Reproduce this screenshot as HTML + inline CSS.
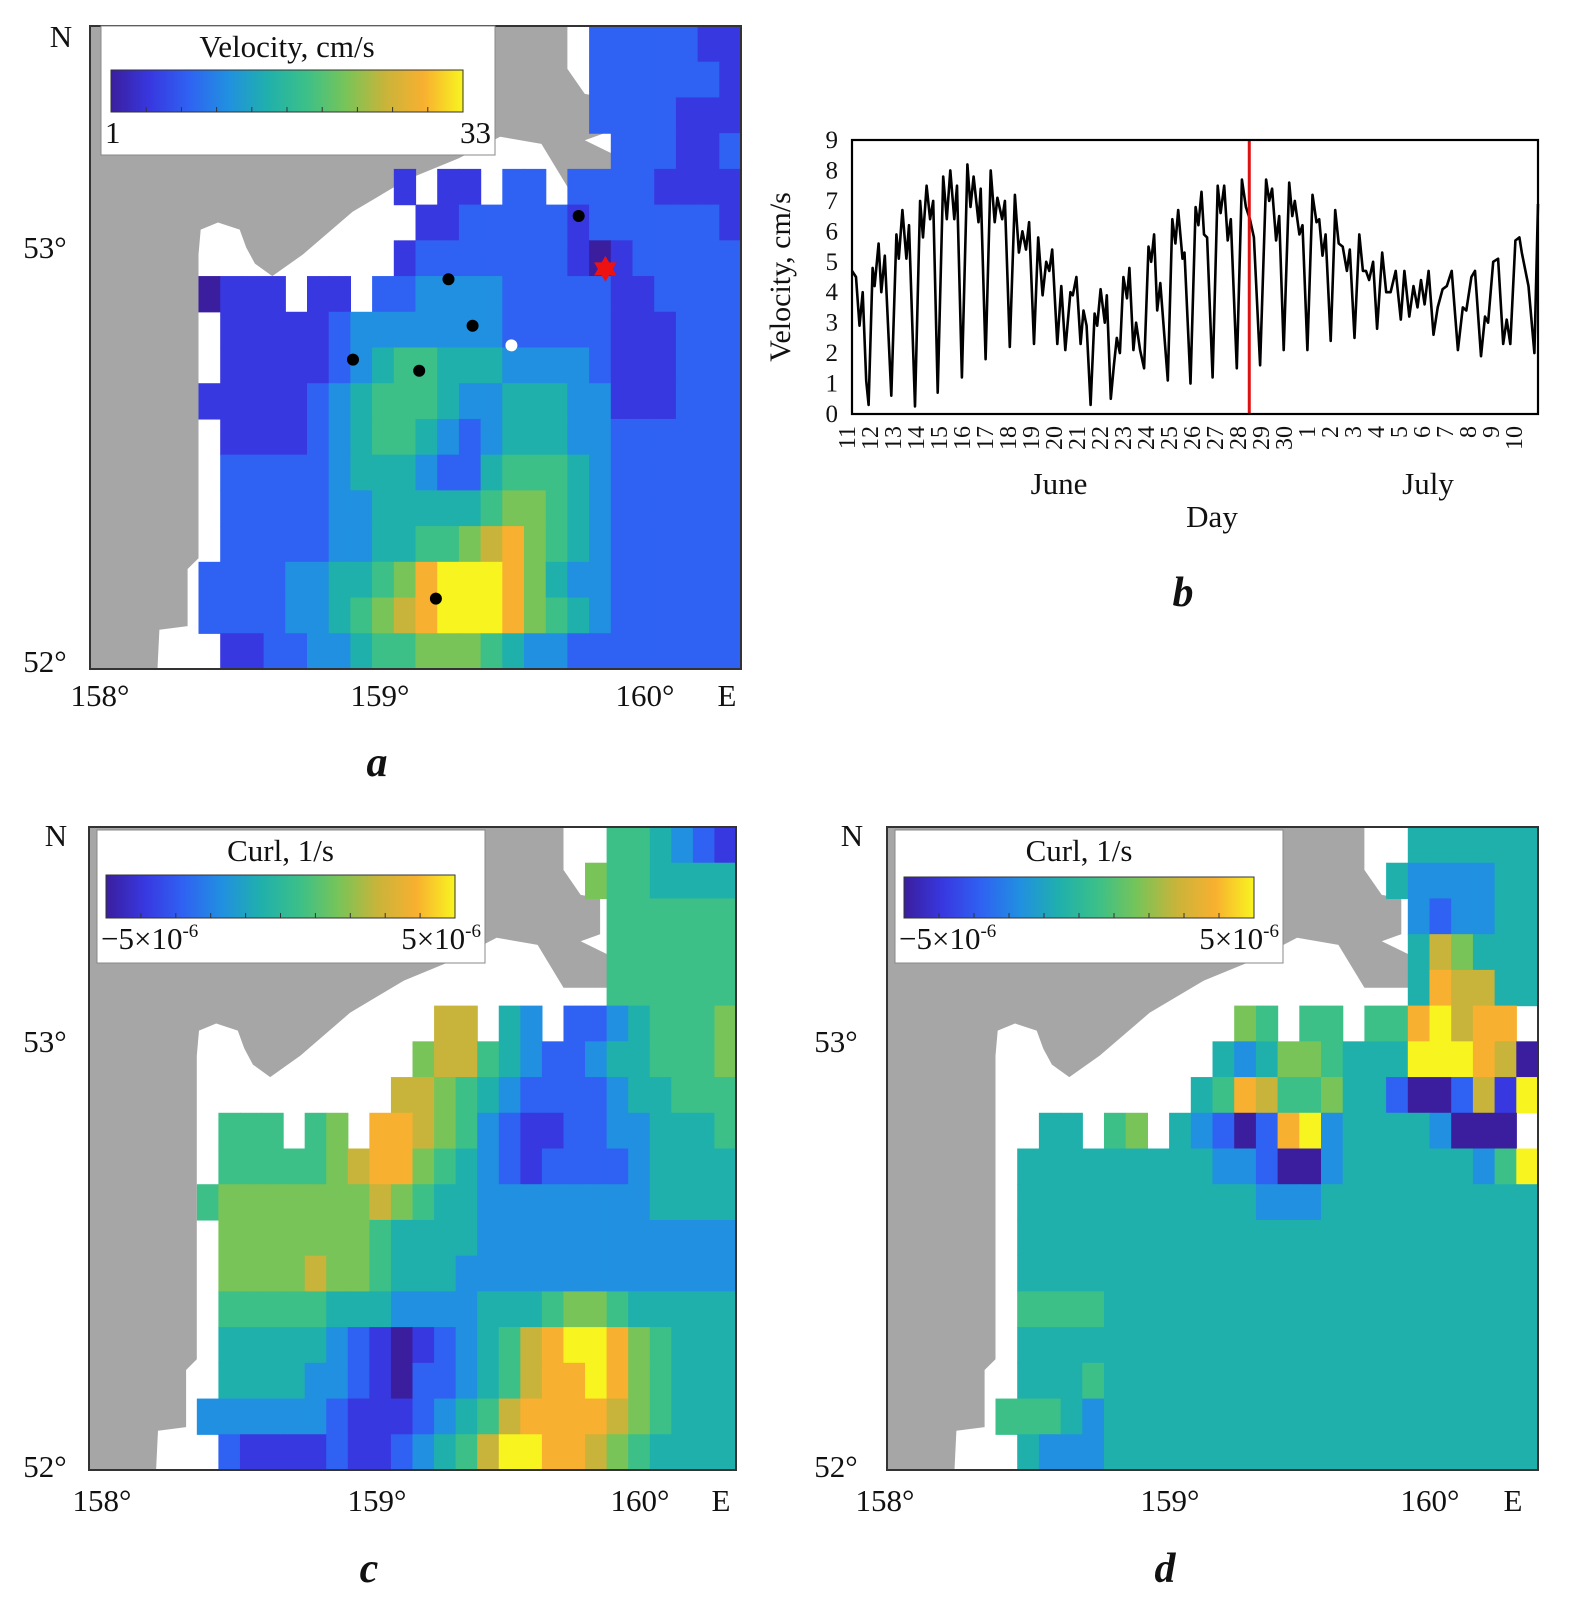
<!DOCTYPE html>
<html><head><meta charset="utf-8">
<style>
html,body{margin:0;padding:0;background:#fff;}
svg{display:block;font-family:"Liberation Serif","Times New Roman",serif;}
</style></head>
<body>
<svg id="fig" xmlns="http://www.w3.org/2000/svg" width="1580" height="1606" viewBox="0 0 1580 1606">
<defs>
<linearGradient id="parula" x1="0" x2="1" y1="0" y2="0">
<stop offset="0" stop-color="#3a1e9e"/><stop offset="0.111" stop-color="#3838e0"/>
<stop offset="0.222" stop-color="#2f62f2"/><stop offset="0.333" stop-color="#2190e0"/>
<stop offset="0.444" stop-color="#20b0ac"/><stop offset="0.556" stop-color="#3cc088"/>
<stop offset="0.667" stop-color="#78c458"/><stop offset="0.778" stop-color="#c8b43a"/>
<stop offset="0.889" stop-color="#f8b030"/><stop offset="1" stop-color="#f8f420"/>
</linearGradient>
</defs>
<rect x="0" y="0" width="1580" height="1606" fill="#fff"/>
<g id="panelA"></g>
<g id="panelB"></g>
<g id="panelC"></g>
<g id="panelD"></g>
</svg>
<script>
// ---------- DATA ----------
const velocityRows = [
".......................2222211",
".......................2222221",
".......................2222111",
"........................222112",
"..............1.11.22.22221111",
"...............112222212222221",
"..............1222222210122222",
".....0111.11.22333322222112222",
"......111112333333322222111222",
"......111112345544433332111222",
".....1111123455543344433111222",
"......111123455432344433222222",
"......222223444322455543222222",
"......222223344444566543222222",
"......222223344556786543222222",
".....2222334456899986433222222",
".....2222334567899986543222222",
"......112233455666543322222222"
];
const curlRowsC = [
"........................554321",
".......................6554444",
"........................555555",
"........................555555",
"........................555555",
"................77.43.22345556",
"...............677543223445556",
"..............7765432222344555",
"......555.56.88765321122334445",
"......555556788654321222234444",
".....5666666676544333333334444",
"......666666654444333333333333",
"......666676654443333333333333",
"......555554443333444566544444",
"......444443210123457899865444",
"......444433210223457889865444",
".....3333332111234578888765444",
"......211112112345799887654444"
];
const curlRowsD = [
"........................444444",
".......................4333344",
"........................323344",
"........................476444",
"........................487744",
"................65.55.5589788",
"...............434665444999870",
"..............4587556442002719",
".......44.56.4320289344443000",
"......444444444332003444444359",
"......444444444443334444444444",
"......444444444444444444444444",
"......444444444444444444444444",
"......555544444444444444444444",
"......444444444444444444444444",
"......444544444444444444444444",
".....5554344444444444444444444",
"......433344444444444444444444"
];
const coastCols = [5.0,5.0,4.5,4.5,3.2,3.1,30,30,22,22,22.8,23.7,23.7,22.8,24.5,24.5,22,20.8,18.9,17,14.6,12.1,9.8,8.4,7.6,7.2,6.9,5.9,5.1];
const coastRowsP = [6.4,14.9,15.2,16.8,16.9,18.1,18.1,0,0,1.2,1.9,2.0,3.0,3.2,3.7,4.5,4.5,3.3,3.1,3.7,4.3,5.2,6.4,7.0,6.65,6.2,5.7,5.5,5.7];
const stationCols = [22.52,16.52,17.63,12.12,15.17,15.94];
const stationRows = [5.32,7.09,8.39,9.34,9.65,16.03];
const whiteStation = [19.42,8.94];
const starStation = [23.75,6.80];
const tDays = [0,0.18,0.34,0.48,0.64,0.75,0.93,1.02,1.20,1.32,1.48,1.77,2.00,2.11,2.27,2.45,2.57,2.84,3.07,3.20,3.36,3.52,3.66,3.86,4.11,4.27,4.43,4.61,4.73,4.95,5.20,5.34,5.48,5.70,5.80,6.02,6.25,6.43,6.55,6.77,6.89,7.11,7.34,7.52,7.68,7.84,7.98,8.20,8.39,8.59,8.75,8.89,9.02,9.25,9.43,9.61,9.84,9.95,10.11,10.30,10.43,10.57,10.75,10.93,11.05,11.20,11.39,11.48,11.66,11.80,11.93,12.07,12.23,12.39,12.50,12.68,12.80,12.98,13.16,13.36,13.48,13.61,13.75,13.89,14.23,14.43,14.57,14.70,14.89,14.98,15.25,15.48,15.61,15.75,15.86,16.00,16.25,16.48,16.61,16.77,16.93,17.07,17.34,17.57,17.75,17.93,18.11,18.39,18.66,18.80,18.93,19.11,19.25,19.45,19.70,19.84,19.95,20.16,20.30,20.52,20.75,20.93,21.05,21.20,21.34,21.57,21.77,21.93,22.11,22.30,22.43,22.64,22.86,23.02,23.16,23.30,23.48,23.66,23.89,24.07,24.27,24.50,24.73,24.89,25.11,25.30,25.48,25.64,25.80,25.98,26.20,26.39,26.61,26.80,27.02,27.30,27.52,27.68,27.91,28.07,28.34,28.52,28.66,28.89,29.11,29.34,29.50,29.66,29.89,30.07,30.18,30.48,30.75,30.91];
const velocity = [4.7,4.5,2.9,4.0,1.1,0.3,4.8,4.2,5.6,4.0,5.2,0.6,5.9,5.1,6.7,5.1,6.2,0.25,7.0,5.8,7.5,6.4,7.0,0.7,7.8,6.4,8.0,6.4,7.5,1.2,8.2,6.8,7.8,6.3,7.4,1.8,8.0,6.3,7.1,6.4,7.0,2.2,7.2,5.3,6.0,5.4,6.3,2.3,5.8,3.9,5.0,4.7,5.4,2.3,4.2,2.1,4.0,3.9,4.5,2.3,3.4,2.9,0.3,3.3,2.9,4.1,3.0,3.9,0.5,1.6,2.5,2.0,4.5,3.8,4.8,2.1,3.0,2.1,1.5,5.5,5.0,5.9,3.4,4.3,1.1,6.4,5.6,6.7,5.1,5.3,1.0,6.8,6.2,7.3,5.9,5.8,1.2,7.5,6.6,7.5,5.7,6.4,1.5,7.7,6.8,6.4,5.8,1.6,7.7,7.0,7.4,5.7,6.5,2.1,7.6,6.5,7.0,5.9,6.2,2.1,7.2,6.3,6.4,5.2,5.9,2.4,6.7,5.6,5.5,4.7,5.4,2.5,5.9,4.7,4.7,4.4,5.0,2.8,5.3,4.0,4.0,4.7,3.1,4.7,3.2,4.2,3.5,4.4,3.6,4.7,2.6,3.5,4.1,4.2,4.7,2.1,3.5,3.4,4.5,4.7,1.9,3.2,3.0,5.0,5.1,2.3,3.1,2.3,5.7,5.8,5.3,4.2,2.0,6.9];
const yTicks = [0,1,2,3,4,5,6,7,8,9];
const dayLabels = ["11","12","13","14","15","16","17","18","19","20","21","22","23","24","25","26","27","28","29","30","1","2","3","4","5","6","7","8","9","10"];
const markerDay = 17.9;

// ---------- HELPERS ----------
const NS='http://www.w3.org/2000/svg';
const cmapColors=["#3a1e9e","#3838e0","#2f62f2","#2190e0","#20b0ac","#3cc088","#78c458","#c8b43a","#f8b030","#f8f420"];
function mk(tag, attrs, parent){
  const e=document.createElementNS(NS,tag);
  for(const k in attrs) e.setAttribute(k,attrs[k]);
  parent.appendChild(e); return e;
}
function txt(parent, x, y, s, size, anchor, extra){
  const t=mk('text',Object.assign({x:x,y:y,'font-size':size,'text-anchor':anchor||'middle',fill:'#111'},extra||{}),parent);
  t.textContent=s; return t;
}

function drawMap(g, x0, y0, w, h, rows, cellName){
  const cw=w/30, rh=h/18;
  const sx=c=>x0+c*cw, sy=r=>y0+r*rh;
  const land=mk('rect',{x:x0,y:y0,width:w,height:h,fill:'#a6a6a6'},g);
  
  
  const pts=coastCols.map((c,i)=>sx(c).toFixed(1)+','+sy(coastRowsP[i]).toFixed(1)).join(' ');
  const mask=mk('polygon',{points:pts,fill:'#fff'},g);
  
  
  rows.forEach((row,r)=>{
    for(let c=0;c<30;c++){
      const ch=row[c];
      if(ch===undefined||ch==='.') continue;
      const cell=mk('rect',{x:sx(c).toFixed(2),y:sy(r).toFixed(2),width:(cw+0.6).toFixed(2),height:(rh+0.6).toFixed(2),fill:cmapColors[+ch]},g);
      
      
    }
  });
  const fr=mk('rect',{x:x0,y:y0,width:w,height:h,fill:'none',stroke:'#333','stroke-width':2},g);
  
  
  return {sx,sy};
}

function drawColorbarLegend(g, bx, by, bw, bh, barX, barY, barW, barH, title, lo, hi, sup){
  const box=mk('rect',{x:bx,y:by,width:bw,height:bh,fill:'#fff',stroke:'#888','stroke-width':1},g);
  
  
  const bar=mk('rect',{x:barX,y:barY,width:barW,height:barH,fill:'url(#parula)',stroke:'#333','stroke-width':1},g);
  
  
  for(let i=1;i<10;i++){
    const tk=mk('line',{x1:barX+barW*i/10,x2:barX+barW*i/10,y1:barY+barH,y2:barY+barH-5,stroke:'#333','stroke-width':1},g);
    
    
  }
  const t=txt(g,barX+barW/2,by+31,title,31);
  
  
  const l=txt(g,bx+4,barY+barH+31,lo,31,'start');
  if(sup){const s=mk('tspan',{'font-size':19,dy:-12},l);s.textContent='-6';}
  
  
  const hl=txt(g,bx+bw-4,barY+barH+31,hi,31,'end');
  if(sup){const s=mk('tspan',{'font-size':19,dy:-12},hl);s.textContent='-6';}
  
  
}

function mapLabels(g, nX, nY, latX, y53, y52, lonY, lon158, lon159, lon160, eX, letter, letX, letY){
  const items=[['N',nX,nY,'north-label'],['53°',latX,y53,'lat-53-label'],['52°',latX,y52,'lat-52-label'],
    ['158°',lon158,lonY,'lon-158-label'],['159°',lon159,lonY,'lon-159-label'],['160°',lon160,lonY,'lon-160-label'],['E',eX,lonY,'east-label']];
  items.forEach(it=>{
    const t=txt(g,it[1],it[2],it[0],31);
    
    
  });
  const L=txt(g,letX,letY,letter,42,'middle',{'font-weight':'bold','font-style':'italic'});
  
  
}

// ---------- PANEL A ----------
(function(){
  const g=document.getElementById('panelA');
  const m=drawMap(g,90,26,651,643,velocityRows,'velocity-cell');
  stationCols.forEach((c,i)=>{
    const d=mk('circle',{cx:m.sx(c),cy:m.sy(stationRows[i]),r:6,fill:'#000'},g);
    
    
  });
  const w=mk('circle',{cx:m.sx(whiteStation[0]),cy:m.sy(whiteStation[1]),r:6,fill:'#fff'},g);
  
  
  const cx=m.sx(starStation[0]), cy=m.sy(starStation[1]), R=13;
  const tri=(a0)=>[0,1,2].map(k=>{const a=a0+k*2*Math.PI/3;return (cx+R*Math.cos(a)).toFixed(1)+','+(cy+R*Math.sin(a)).toFixed(1);}).join(' ');
  const s1=mk('polygon',{points:tri(-Math.PI/2),fill:'#ee1111'},g);
  
  
  const s2=mk('polygon',{points:tri(Math.PI/2),fill:'#ee1111'},g);
  
  
  drawColorbarLegend(g,101,26,394,129,111,70,352,42,'Velocity, cm/s','1','33',false);
  mapLabels(g,61,47,45,258,672,706,100,380,645,727,'a',377,776);
})();

// ---------- PANEL C ----------
(function(){
  const g=document.getElementById('panelC');
  drawMap(g,89,827,647,643,curlRowsC,'curl-cell');
  drawColorbarLegend(g,97,830,388,133,106,875,349,43,'Curl, 1/s','−5×10','5×10',true);
  mapLabels(g,56,846,45,1052,1477,1511,102,377,640,721,'c',369,1582);
})();

// ---------- PANEL D ----------
(function(){
  const g=document.getElementById('panelD');
  drawMap(g,887,827,651,643,curlRowsD,'curl-cell');
  drawColorbarLegend(g,895,830,388,133,904,877,350,41,'Curl, 1/s','−5×10','5×10',true);
  mapLabels(g,852,846,836,1052,1477,1511,885,1170,1430,1513,'d',1165,1582);
})();

// ---------- PANEL B ----------
(function(){
  const g=document.getElementById('panelB');
  const X0=852, X1=1538, Y0=414, Y1=140;
  const perDay=(X1-X0)/30.91;
  const labelStep=23.0;
  const xs=t=>X0+t*perDay;
  const ys=v=>Y0-(v/9)*(Y0-Y1);
  const d=tDays.map((t,i)=>(i?'L':'M')+xs(t).toFixed(1)+','+ys(velocity[i]).toFixed(1)).join(' ');
  const line=mk('path',{d:d,fill:'none',stroke:'#000','stroke-width':2.6,'stroke-linejoin':'round'},g);
  
  
  const red=mk('line',{x1:xs(markerDay),x2:xs(markerDay),y1:Y1,y2:Y0,stroke:'#dd1111','stroke-width':3},g);
  
  
  const fr=mk('rect',{x:X0,y:Y1,width:X1-X0,height:Y0-Y1,fill:'none',stroke:'#000','stroke-width':2.2},g);
  
  
  yTicks.forEach(v=>{
    const t=txt(g,838,ys(v)+8,String(v),25,'end');
    
    
  });
  dayLabels.forEach((s,i)=>{
    const x=X0+3+i*labelStep;
    const t=txt(g,x,426,s,24,'end',{transform:'rotate(-90 '+x+' 426)'});
    
    
  });
  const yt=txt(g,790,277,'Velocity, cm/s',30,'middle',{transform:'rotate(-90 790 277)'});
  
  
  const jn=txt(g,1059,494,'June',31);
  
  
  const jl=txt(g,1428,494,'July',31);
  
  
  const dy=txt(g,1212,527,'Day',31);
  
  
  const L=txt(g,1183,606,'b',42,'middle',{'font-weight':'bold','font-style':'italic'});
  
  
})();
</script>
</body></html>
